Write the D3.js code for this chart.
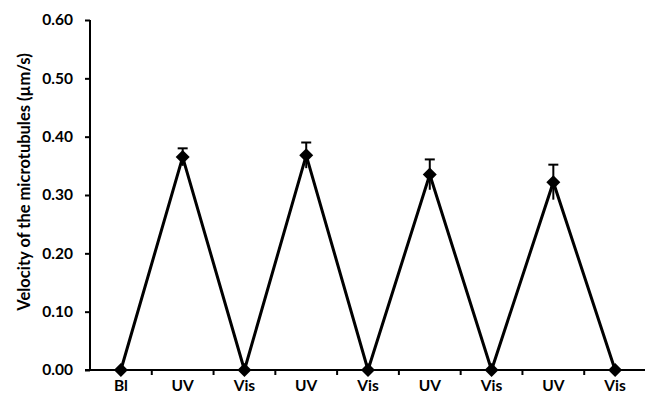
<!DOCTYPE html>
<html><head><meta charset="utf-8">
<script src="https://cdn.jsdelivr.net/npm/d3@7"></script>
<style>body{margin:0;background:#fff}</style>
</head><body>
<svg id="c" width="645" height="403"></svg>
<script>
const categories = ["Bl","UV","Vis","UV","Vis","UV","Vis","UV","Vis"];
const values = [0, 0.365, 0, 0.368, 0, 0.335, 0, 0.322, 0];
const errors = [0, 0.015, 0, 0.022, 0, 0.026, 0, 0.030, 0];
const yTicks = [0, 0.1, 0.2, 0.3, 0.4, 0.5, 0.6];
const yLabel = "Velocity of the microtubules (\u00b5m/s)";

const svg = d3.select("#c");
const font = "Lato, 'Open Sans', sans-serif";
const idx = d3.range(categories.length);
const x = d3.scaleBand().domain(idx).range([90, 646]);
const y = d3.scaleLinear().domain([0, 0.6]).range([370, 20]);
const cx = i => x(i) + x.bandwidth() / 2;

// y axis
const ya = svg.append("g").attr("transform", "translate(90,0)")
  .call(d3.axisLeft(y).tickValues(yTicks).tickFormat(d3.format(".2f")).tickSize(5).tickPadding(12));
ya.select(".domain").attr("stroke", "#000").attr("stroke-width", 2).attr("d", "M0," + y(0.6) + "V" + y(0));
ya.selectAll(".tick line").attr("stroke-width", 2);
ya.selectAll("text").attr("font-family", font).attr("font-weight", "bold").attr("font-size", 15.5).attr("fill", "#000");

// x axis
const xa = svg.append("g").attr("transform", "translate(0,370)");
xa.append("line").attr("x1", 85).attr("x2", 645).attr("y1", 0).attr("y2", 0).attr("stroke", "#000").attr("stroke-width", 2);
xa.selectAll(".xt").data(d3.range(1, categories.length)).join("line")
  .attr("x1", i => x(i)).attr("x2", i => x(i))
  .attr("y1", 0).attr("y2", 5).attr("stroke", "#000").attr("stroke-width", 2);
xa.selectAll(".xl").data(idx).join("text")
  .attr("x", cx).attr("y", 21).attr("text-anchor", "middle")
  .attr("font-family", font).attr("font-weight", "bold").attr("font-size", 15.5)
  .text(i => categories[i]);

// y label
svg.append("text").attr("transform", "translate(30," + 182 + ") rotate(-90)")
  .attr("text-anchor", "middle").attr("font-family", font).attr("font-weight", "bold").attr("font-size", 16.5)
  .text(yLabel);

// line
svg.append("path").datum(idx)
  .attr("d", d3.line().x(cx).y(i => y(values[i])))
  .attr("fill", "none").attr("stroke", "#000").attr("stroke-width", 3);

// error bars
const eb = svg.selectAll(".eb").data(idx.filter(i => errors[i] > 0)).join("g");
eb.append("line").attr("x1", cx).attr("x2", cx)
  .attr("y1", i => y(values[i] + errors[i])).attr("y2", i => y(values[i] - errors[i]))
  .attr("stroke", "#000").attr("stroke-width", 2);
eb.append("line").attr("x1", i => cx(i) - 5).attr("x2", i => cx(i) + 5)
  .attr("y1", i => y(values[i] + errors[i])).attr("y2", i => y(values[i] + errors[i]))
  .attr("stroke", "#000").attr("stroke-width", 2);

// markers
svg.selectAll(".mk").data(idx).join("path")
  .attr("transform", i => "translate(" + cx(i) + "," + y(values[i]) + ")")
  .attr("d", "M0,-7L7,0L0,7L-7,0Z").attr("fill", "#000");
</script>
</body></html>
